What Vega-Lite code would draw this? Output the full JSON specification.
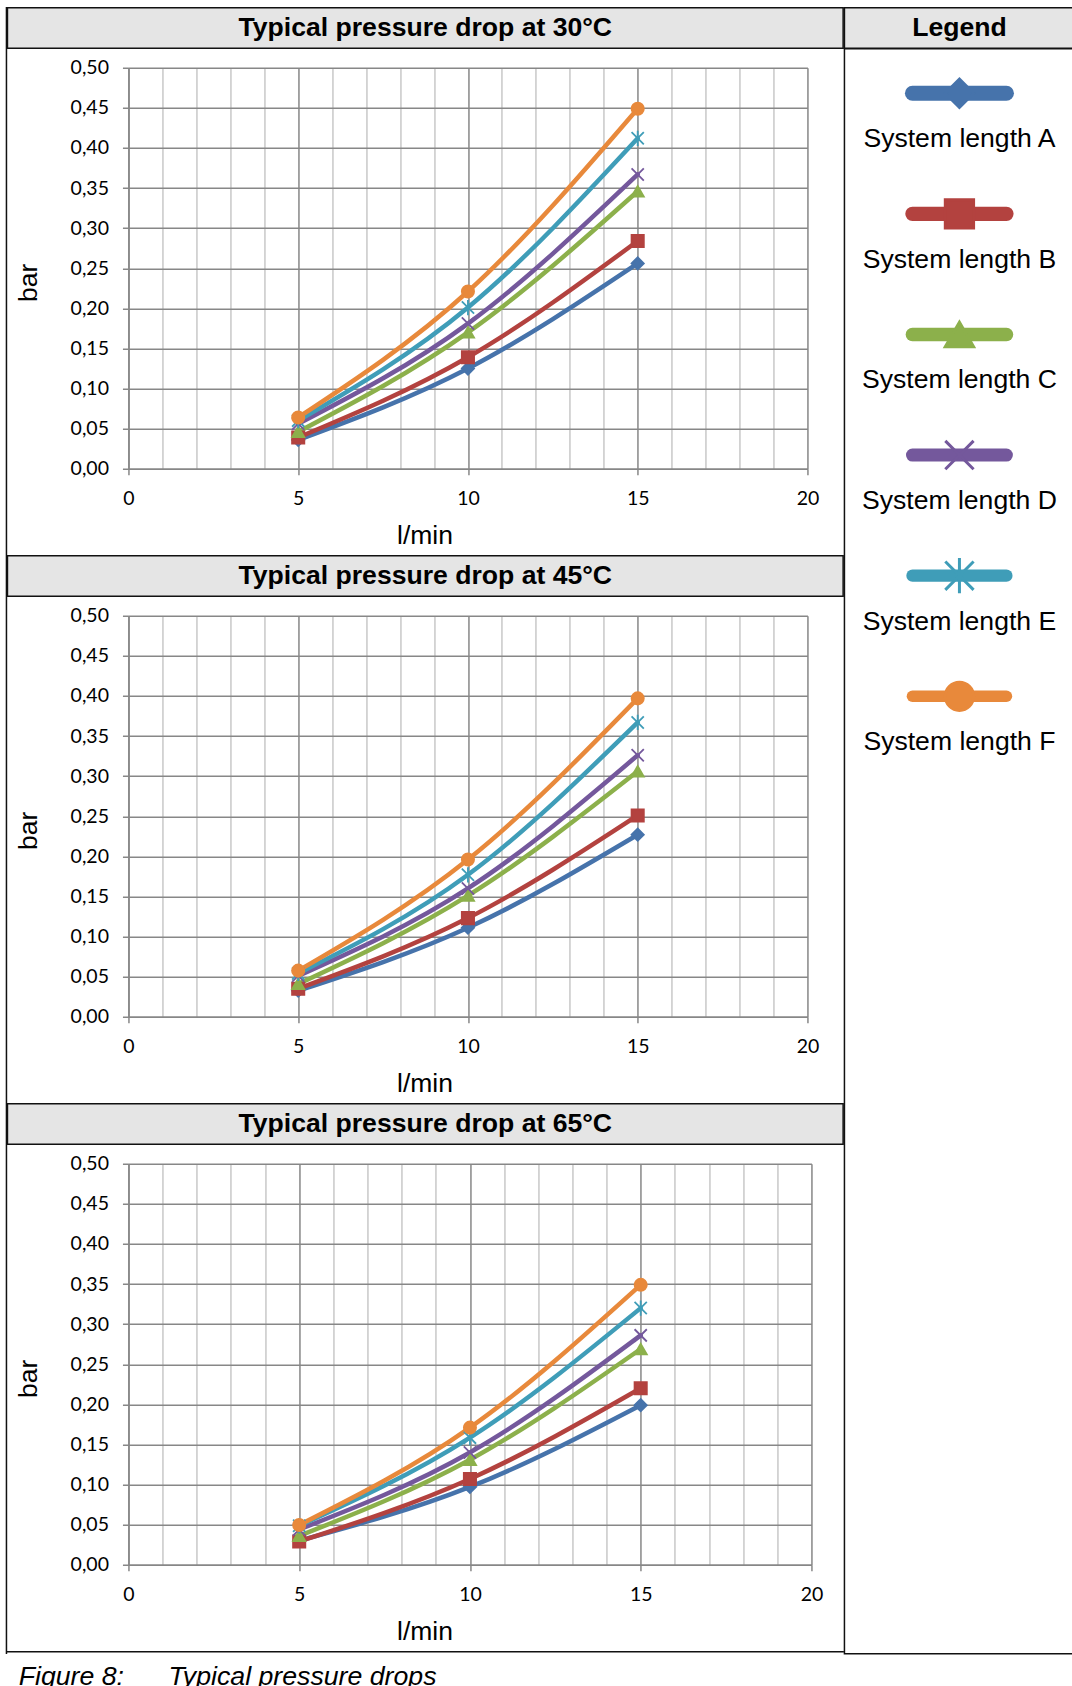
{
  "$schema": "https://vega.github.io/schema/vega-lite/v6.json",
  "background": "white",
  "padding": {"left": 5.45, "top": 6.75, "right": 0, "bottom": 0},
  "autosize": {"type": "pad"},
  "title": {
    "text": "Figure 8:\u00a0\u00a0\u00a0\u00a0\u00a0\u00a0Typical pressure drops",
    "orient": "bottom", "anchor": "start", "offset": 10, "dx": 13,
    "font": "Liberation Sans", "fontSize": 26.7, "fontStyle": "italic", "fontWeight": "normal", "color": "#000"
  },
  "datasets": {
    "d": [
      {"T": 30, "x": 5, "y": 0.036, "s": "System length A"},
      {"T": 30, "x": 10, "y": 0.125, "s": "System length A"},
      {"T": 30, "x": 15, "y": 0.256, "s": "System length A"},
      {"T": 30, "x": 5, "y": 0.039, "s": "System length B"},
      {"T": 30, "x": 10, "y": 0.139, "s": "System length B"},
      {"T": 30, "x": 15, "y": 0.284, "s": "System length B"},
      {"T": 30, "x": 5, "y": 0.046, "s": "System length C"},
      {"T": 30, "x": 10, "y": 0.170, "s": "System length C"},
      {"T": 30, "x": 15, "y": 0.346, "s": "System length C"},
      {"T": 30, "x": 5, "y": 0.056, "s": "System length D"},
      {"T": 30, "x": 10, "y": 0.181, "s": "System length D"},
      {"T": 30, "x": 15, "y": 0.367, "s": "System length D"},
      {"T": 30, "x": 5, "y": 0.060, "s": "System length E"},
      {"T": 30, "x": 10, "y": 0.201, "s": "System length E"},
      {"T": 30, "x": 15, "y": 0.412, "s": "System length E"},
      {"T": 30, "x": 5, "y": 0.064, "s": "System length F"},
      {"T": 30, "x": 10, "y": 0.221, "s": "System length F"},
      {"T": 30, "x": 15, "y": 0.449, "s": "System length F"},
      {"T": 45, "x": 5, "y": 0.0325, "s": "System length A"},
      {"T": 45, "x": 10, "y": 0.111, "s": "System length A"},
      {"T": 45, "x": 15, "y": 0.227, "s": "System length A"},
      {"T": 45, "x": 5, "y": 0.035, "s": "System length B"},
      {"T": 45, "x": 10, "y": 0.123, "s": "System length B"},
      {"T": 45, "x": 15, "y": 0.251, "s": "System length B"},
      {"T": 45, "x": 5, "y": 0.041, "s": "System length C"},
      {"T": 45, "x": 10, "y": 0.151, "s": "System length C"},
      {"T": 45, "x": 15, "y": 0.306, "s": "System length C"},
      {"T": 45, "x": 5, "y": 0.051, "s": "System length D"},
      {"T": 45, "x": 10, "y": 0.160, "s": "System length D"},
      {"T": 45, "x": 15, "y": 0.326, "s": "System length D"},
      {"T": 45, "x": 5, "y": 0.054, "s": "System length E"},
      {"T": 45, "x": 10, "y": 0.177, "s": "System length E"},
      {"T": 45, "x": 15, "y": 0.367, "s": "System length E"},
      {"T": 45, "x": 5, "y": 0.0575, "s": "System length F"},
      {"T": 45, "x": 10, "y": 0.196, "s": "System length F"},
      {"T": 45, "x": 15, "y": 0.397, "s": "System length F"},
      {"T": 65, "x": 5, "y": 0.030, "s": "System length A"},
      {"T": 65, "x": 10, "y": 0.097, "s": "System length A"},
      {"T": 65, "x": 15, "y": 0.199, "s": "System length A"},
      {"T": 65, "x": 5, "y": 0.029, "s": "System length B"},
      {"T": 65, "x": 10, "y": 0.107, "s": "System length B"},
      {"T": 65, "x": 15, "y": 0.220, "s": "System length B"},
      {"T": 65, "x": 5, "y": 0.036, "s": "System length C"},
      {"T": 65, "x": 10, "y": 0.131, "s": "System length C"},
      {"T": 65, "x": 15, "y": 0.269, "s": "System length C"},
      {"T": 65, "x": 5, "y": 0.044, "s": "System length D"},
      {"T": 65, "x": 10, "y": 0.140, "s": "System length D"},
      {"T": 65, "x": 15, "y": 0.286, "s": "System length D"},
      {"T": 65, "x": 5, "y": 0.0485, "s": "System length E"},
      {"T": 65, "x": 10, "y": 0.1585, "s": "System length E"},
      {"T": 65, "x": 15, "y": 0.320, "s": "System length E"},
      {"T": 65, "x": 5, "y": 0.0495, "s": "System length F"},
      {"T": 65, "x": 10, "y": 0.171, "s": "System length F"},
      {"T": 65, "x": 15, "y": 0.349, "s": "System length F"}
    ],
    "leg": [
      {"s": "System length A", "i": 1},
      {"s": "System length B", "i": 2},
      {"s": "System length C", "i": 3},
      {"s": "System length D", "i": 4},
      {"s": "System length E", "i": 5},
      {"s": "System length F", "i": 6}
    ]
  },
  "config": {
    "font": "Liberation Sans",
    "view": {"stroke": null},
    "axis": {
      "labelFont": "Lato", "labelFontSize": 19.5, "labelColor": "#000",
      "titleFont": "Liberation Sans", "titleFontSize": 26.5, "titleFontWeight": "normal", "titleColor": "#000",
      "domainColor": "#878787", "domainWidth": 1.5,
      "tickColor": "#878787", "tickWidth": 1.5, "tickSize": 6,
      "gridWidth": 1.5, "labelPadding": 14, "labelFlush": false, "labelOverlap": false
    }
  },
  "spacing": -1.5,
  "hconcat": [
    {
      "width": 0.01, "height": 1645.5,
      "data": {"values": [{"k": 1}]},
      "mark": {"type": "point", "size": 0, "opacity": 0},
      "view": {"stroke": "#111", "strokeWidth": 1.5}
    },
    {
      "spacing": 6,
      "vconcat": [
        {
          "spacing": 8,
          "vconcat": [
            {
              "width": 835.7, "height": 40.5,
              "data": {"values": [{"h": "Typical pressure drop at 30°C"}]},
              "mark": {"type": "text", "font": "Liberation Sans", "fontSize": 26.6, "fontWeight": "bold", "color": "#000"},
              "encoding": {"text": {"field": "h", "type": "nominal"}},
              "view": {"fill": "#e5e5e5", "stroke": "#111", "strokeWidth": 1.5}
            },
            {
              "spacing": 0,
              "hconcat": [
                {
                  "width": 7.7, "height": 1,
                  "data": {"values": [{"k": 1}]},
                  "mark": {"type": "point", "size": 0, "opacity": 0}
                },
                {
                  "width": 679, "height": 401,
                  "data": {"name": "d"},
                  "transform": [{"filter": "datum.T === 30"}],
                  "encoding": {
                    "x": {"field": "x", "type": "quantitative", "title": "l/min",
                      "scale": {"domain": [0, 20], "nice": false, "zero": false},
                      "axis": {"values": [0,1,2,3,4,5,6,7,8,9,10,11,12,13,14,15,16,17,18,19,20], "format": "d",
                        "labelExpr": "datum.value % 5 === 0 ? datum.label : ''",
                        "grid": true,
                        "gridColor": {"condition": {"test": "datum.value % 5 === 0", "value": "#878787"}, "value": "#c8c8c8"},
                        "tickOpacity": {"condition": {"test": "datum.value % 5 === 0", "value": 1}, "value": 0},
                        "labelPadding": 15, "titlePadding": 14, "titleX": 296}},
                    "y": {"field": "y", "type": "quantitative", "title": "bar",
                      "scale": {"domain": [0, 0.5], "nice": false},
                      "axis": {"values": [0,0.05,0.1,0.15,0.2,0.25,0.3,0.35,0.4,0.45,0.5], "format": ".2f",
                        "labelExpr": "replace(datum.label, '.', ',')",
                        "grid": true, "gridColor": "#878787", "titlePadding": 27.5, "titleY": 214.5}},
                    "color": {"field": "s", "type": "nominal", "legend": null,
                      "scale": {"domain": ["System length A","System length B","System length C","System length D","System length E","System length F"],
                        "range": ["#4673AB","#B3423F","#8CB04B","#74589C","#3F9DB8","#E8893B"]}}
                  },
                  "layer": [
                    {"mark": {"type": "line", "interpolate": "monotone", "strokeWidth": 4.5, "strokeCap": "round", "strokeJoin": "round"}},
                    {"mark": {"type": "point", "filled": true, "size": 150, "strokeWidth": 1.8, "opacity": 1},
                     "encoding": {
                       "shape": {"field": "s", "type": "nominal", "legend": null,
                         "scale": {"domain": ["System length A","System length B","System length C","System length D","System length E","System length F"],
                           "range": ["diamond","square","triangle-up","M-1,-1L1,1M-1,1L1,-1","M-1,-1L1,1M-1,1L1,-1M0,-1.25L0,1.25","circle"]}},
                       "stroke": {"field": "s", "type": "nominal", "legend": null,
                         "scale": {"domain": ["System length A","System length B","System length C","System length D","System length E","System length F"],
                           "range": ["#4673AB","#B3423F","#8CB04B","#74589C","#3F9DB8","#E8893B"]}}
                     }}
                  ]
                }
              ]
            }
          ]
        },
        {
          "spacing": 8,
          "vconcat": [
            {
              "width": 835.7, "height": 40.5,
              "data": {"values": [{"h": "Typical pressure drop at 45°C"}]},
              "mark": {"type": "text", "font": "Liberation Sans", "fontSize": 26.6, "fontWeight": "bold", "color": "#000"},
              "encoding": {"text": {"field": "h", "type": "nominal"}},
              "view": {"fill": "#e5e5e5", "stroke": "#111", "strokeWidth": 1.5}
            },
            {
              "spacing": 0,
              "hconcat": [
                {
                  "width": 7.7, "height": 1,
                  "data": {"values": [{"k": 1}]},
                  "mark": {"type": "point", "size": 0, "opacity": 0}
                },
                {
                  "width": 679, "height": 401,
                  "data": {"name": "d"},
                  "transform": [{"filter": "datum.T === 45"}],
                  "encoding": {
                    "x": {"field": "x", "type": "quantitative", "title": "l/min",
                      "scale": {"domain": [0, 20], "nice": false, "zero": false},
                      "axis": {"values": [0,1,2,3,4,5,6,7,8,9,10,11,12,13,14,15,16,17,18,19,20], "format": "d",
                        "labelExpr": "datum.value % 5 === 0 ? datum.label : ''",
                        "grid": true,
                        "gridColor": {"condition": {"test": "datum.value % 5 === 0", "value": "#878787"}, "value": "#c8c8c8"},
                        "tickOpacity": {"condition": {"test": "datum.value % 5 === 0", "value": 1}, "value": 0},
                        "labelPadding": 15, "titlePadding": 14, "titleX": 296}},
                    "y": {"field": "y", "type": "quantitative", "title": "bar",
                      "scale": {"domain": [0, 0.5], "nice": false},
                      "axis": {"values": [0,0.05,0.1,0.15,0.2,0.25,0.3,0.35,0.4,0.45,0.5], "format": ".2f",
                        "labelExpr": "replace(datum.label, '.', ',')",
                        "grid": true, "gridColor": "#878787", "titlePadding": 27.5, "titleY": 214.5}},
                    "color": {"field": "s", "type": "nominal", "legend": null,
                      "scale": {"domain": ["System length A","System length B","System length C","System length D","System length E","System length F"],
                        "range": ["#4673AB","#B3423F","#8CB04B","#74589C","#3F9DB8","#E8893B"]}}
                  },
                  "layer": [
                    {"mark": {"type": "line", "interpolate": "monotone", "strokeWidth": 4.5, "strokeCap": "round", "strokeJoin": "round"}},
                    {"mark": {"type": "point", "filled": true, "size": 150, "strokeWidth": 1.8, "opacity": 1},
                     "encoding": {
                       "shape": {"field": "s", "type": "nominal", "legend": null,
                         "scale": {"domain": ["System length A","System length B","System length C","System length D","System length E","System length F"],
                           "range": ["diamond","square","triangle-up","M-1,-1L1,1M-1,1L1,-1","M-1,-1L1,1M-1,1L1,-1M0,-1.25L0,1.25","circle"]}},
                       "stroke": {"field": "s", "type": "nominal", "legend": null,
                         "scale": {"domain": ["System length A","System length B","System length C","System length D","System length E","System length F"],
                           "range": ["#4673AB","#B3423F","#8CB04B","#74589C","#3F9DB8","#E8893B"]}}
                     }}
                  ]
                }
              ]
            }
          ]
        },
        {
          "spacing": 8,
          "vconcat": [
            {
              "width": 835.7, "height": 40.5,
              "data": {"values": [{"h": "Typical pressure drop at 65°C"}]},
              "mark": {"type": "text", "font": "Liberation Sans", "fontSize": 26.6, "fontWeight": "bold", "color": "#000"},
              "encoding": {"text": {"field": "h", "type": "nominal"}},
              "view": {"fill": "#e5e5e5", "stroke": "#111", "strokeWidth": 1.5}
            },
            {
              "spacing": 0,
              "hconcat": [
                {
                  "width": 7.7, "height": 1,
                  "data": {"values": [{"k": 1}]},
                  "mark": {"type": "point", "size": 0, "opacity": 0}
                },
                {
                  "width": 683, "height": 401,
                  "data": {"name": "d"},
                  "transform": [{"filter": "datum.T === 65"}],
                  "encoding": {
                    "x": {"field": "x", "type": "quantitative", "title": "l/min",
                      "scale": {"domain": [0, 20], "nice": false, "zero": false},
                      "axis": {"values": [0,1,2,3,4,5,6,7,8,9,10,11,12,13,14,15,16,17,18,19,20], "format": "d",
                        "labelExpr": "datum.value % 5 === 0 ? datum.label : ''",
                        "grid": true,
                        "gridColor": {"condition": {"test": "datum.value % 5 === 0", "value": "#878787"}, "value": "#c8c8c8"},
                        "tickOpacity": {"condition": {"test": "datum.value % 5 === 0", "value": 1}, "value": 0},
                        "labelPadding": 15, "titlePadding": 14, "titleX": 296}},
                    "y": {"field": "y", "type": "quantitative", "title": "bar",
                      "scale": {"domain": [0, 0.5], "nice": false},
                      "axis": {"values": [0,0.05,0.1,0.15,0.2,0.25,0.3,0.35,0.4,0.45,0.5], "format": ".2f",
                        "labelExpr": "replace(datum.label, '.', ',')",
                        "grid": true, "gridColor": "#878787", "titlePadding": 27.5, "titleY": 214.5}},
                    "color": {"field": "s", "type": "nominal", "legend": null,
                      "scale": {"domain": ["System length A","System length B","System length C","System length D","System length E","System length F"],
                        "range": ["#4673AB","#B3423F","#8CB04B","#74589C","#3F9DB8","#E8893B"]}}
                  },
                  "layer": [
                    {"mark": {"type": "line", "interpolate": "monotone", "strokeWidth": 4.5, "strokeCap": "round", "strokeJoin": "round"}},
                    {"mark": {"type": "point", "filled": true, "size": 150, "strokeWidth": 1.8, "opacity": 1},
                     "encoding": {
                       "shape": {"field": "s", "type": "nominal", "legend": null,
                         "scale": {"domain": ["System length A","System length B","System length C","System length D","System length E","System length F"],
                           "range": ["diamond","square","triangle-up","M-1,-1L1,1M-1,1L1,-1","M-1,-1L1,1M-1,1L1,-1M0,-1.25L0,1.25","circle"]}},
                       "stroke": {"field": "s", "type": "nominal", "legend": null,
                         "scale": {"domain": ["System length A","System length B","System length C","System length D","System length E","System length F"],
                           "range": ["#4673AB","#B3423F","#8CB04B","#74589C","#3F9DB8","#E8893B"]}}
                     }}
                  ]
                }
              ]
            }
          ]
        },
        {
          "width": 835.7, "height": 0.01,
          "data": {"values": [{"k": 1}]},
          "mark": {"type": "point", "size": 0, "opacity": 0},
          "view": {"stroke": "#111", "strokeWidth": 1.5}
        }
      ]
    },
    {
      "spacing": 0,
      "bounds": "flush",
      "vconcat": [
        {
          "width": 230, "height": 40.5,
          "data": {"values": [{"h": "Legend"}]},
          "mark": {"type": "text", "font": "Liberation Sans", "fontSize": 26.6, "fontWeight": "bold", "color": "#000"},
          "encoding": {"text": {"field": "h", "type": "nominal"}},
          "view": {"fill": "#e5e5e5", "stroke": "#111", "strokeWidth": 1.5}
        },
        {
          "width": 230, "height": 1605,
          "data": {"name": "leg"},
          "view": {"stroke": "#111", "strokeWidth": 1.5},
          "encoding": {
            "y": {"field": "i", "type": "quantitative", "axis": null,
              "scale": {"domain": [0.631, 13.939], "reverse": true, "nice": false, "zero": false}}
          },
          "layer": [
            {"mark": {"type": "point", "shape": "stroke", "size": 8836, "filled": false, "strokeCap": "round", "opacity": 1},
             "encoding": {
               "color": {"field": "s", "type": "nominal", "legend": null,
                 "scale": {"domain": ["System length A","System length B","System length C","System length D","System length E","System length F"],
                   "range": ["#4673AB","#B3423F","#8CB04B","#74589C","#3F9DB8","#E8893B"]}},
               "strokeWidth": {"field": "s", "type": "nominal", "legend": null,
                 "scale": {"domain": ["System length A","System length B","System length C","System length D","System length E","System length F"],
                   "range": [15, 11.5, 11, 11.5, 12, 11.5]}}
             }},
            {"mark": {"type": "point", "filled": true, "size": 800, "strokeWidth": 3, "opacity": 1},
             "encoding": {
               "color": {"field": "s", "type": "nominal", "legend": null,
                 "scale": {"domain": ["System length A","System length B","System length C","System length D","System length E","System length F"],
                   "range": ["#4673AB","#B3423F","#8CB04B","#74589C","#3F9DB8","#E8893B"]}},
               "shape": {"field": "s", "type": "nominal", "legend": null,
                 "scale": {"domain": ["System length A","System length B","System length C","System length D","System length E","System length F"],
                   "range": ["diamond","square","triangle-up","M-1,-1L1,1M-1,1L1,-1","M-1,-1L1,1M-1,1L1,-1M0,-1.25L0,1.25","circle"]}},
               "stroke": {"field": "s", "type": "nominal", "legend": null,
                 "scale": {"domain": ["System length A","System length B","System length C","System length D","System length E","System length F"],
                   "range": ["#4673AB","#B3423F","#8CB04B","#74589C","#3F9DB8","#E8893B"]}}
             }},
            {"mark": {"type": "text", "dy": 46, "fontSize": 26.6, "font": "Liberation Sans", "color": "#000"},
             "encoding": {"text": {"field": "s", "type": "nominal"}}}
          ]
        }
      ]
    }
  ]
}
